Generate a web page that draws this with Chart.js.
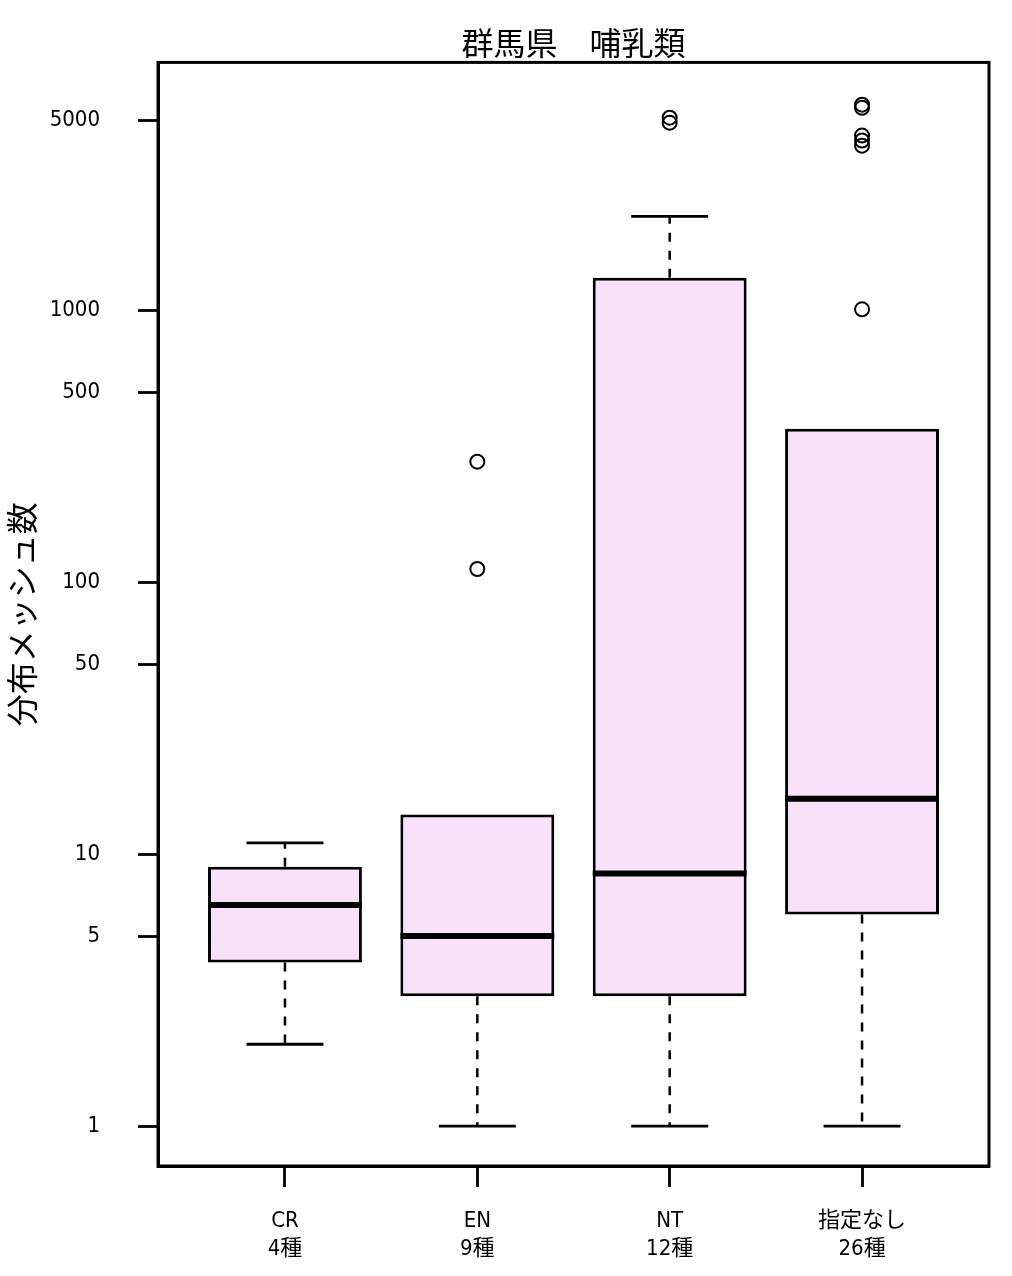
<!DOCTYPE html>
<html>
<head>
<meta charset="utf-8">
<script src="https://cdn.jsdelivr.net/npm/chart.js@4/dist/chart.umd.min.js"></script>
<style>
html,body{margin:0;padding:0;background:#fff;}
#wrap{width:1012px;height:1276px;}
</style>
</head>
<body>
<div id="wrap"><canvas id="c" width="1012" height="1276"></canvas></div>
<script>
// ---- data ----
const categories = ['CR', 'EN', 'NT', '指定なし'];
const speciesCounts = ['4種', '9種', '12種', '26種'];
const whiskerLow = [2, 1, 1, 1];
const q1 = [4, 3, 3, 6];
const median = [6.5, 5, 8.5, 16];
const q3 = [9, 14, 1320, 367];
const whiskerHigh = [11, 14, 2220, 367];
const outliers = [[], [278, 112], [5120, 4910], [5720, 5570, 4400, 4220, 4040, 1010]];
const yTicks = [1, 5, 10, 50, 100, 500, 1000, 5000];
const chartTitle = '群馬県　哺乳類';
const yTitle = '分布メッシュ数';

// ---- derived datasets ----
const positions = categories.map((_, i) => i + 1);
const boxData = positions.map((x, i) => ({x: x, y: [q1[i], q3[i]]}));
const medianData = positions.map((x, i) => ({x: x, y: median[i]}));
const capData = [];
const whiskerData = [];
positions.forEach((x, i) => {
  if (whiskerLow[i] !== q1[i]) {
    capData.push({x: x, y: whiskerLow[i]});
    whiskerData.push({x: x, y: q1[i]}, {x: x, y: whiskerLow[i]}, {x: x, y: null});
  }
  if (whiskerHigh[i] !== q3[i]) {
    capData.push({x: x, y: whiskerHigh[i]});
    whiskerData.push({x: x, y: q3[i]}, {x: x, y: whiskerHigh[i]}, {x: x, y: null});
  }
});
const outlierData = [];
positions.forEach((x, i) => outliers[i].forEach(v => outlierData.push({x: x, y: v})));

const latinFont = '"Liberation Sans Narrow", "DejaVu Sans Condensed", "Noto Sans CJK JP", sans-serif';
const cjkFont = '"Noto Sans CJK JP", sans-serif';
const boxFill = '#F8E1F9';

function unitPx(ctx) {
  const s = ctx.chart.scales.x;
  return s.getPixelForValue(2) - s.getPixelForValue(1);
}

const framePlugin = {
  id: 'frame',
  afterDraw(chart) {
    const a = chart.chartArea, c = chart.ctx;
    c.save();
    c.strokeStyle = '#000';
    c.lineWidth = 3;
    c.strokeRect(a.left, a.top, a.right - a.left, a.bottom - a.top);
    c.restore();
  }
};

new Chart(document.getElementById('c'), {
  type: 'bar',
  data: {
    datasets: [
      {type: 'line', data: whiskerData, borderColor: '#000', borderWidth: 2.5, borderDash: [9, 9], pointRadius: 0, spanGaps: false, order: 4},
      {type: 'bar', data: boxData, backgroundColor: boxFill, borderColor: '#000', borderWidth: 3, borderSkipped: false, barPercentage: 0.8, categoryPercentage: 1.0, order: 3},
      {type: 'scatter', data: capData, pointStyle: 'line', radius: ctx => unitPx(ctx) * 0.2, borderColor: '#000', borderWidth: 2.8, order: 2},
      {type: 'scatter', data: medianData, pointStyle: 'line', radius: ctx => unitPx(ctx) * 0.4, borderColor: '#000', borderWidth: 6, order: 1},
      {type: 'scatter', data: outlierData, pointStyle: 'circle', radius: 7, borderColor: '#000', backgroundColor: 'rgba(0,0,0,0)', borderWidth: 2, order: 0}
    ]
  },
  options: {
    responsive: false,
    animation: false,
    layout: {padding: {left: 0, right: 23, top: 0, bottom: 0}},
    plugins: {
      legend: {display: false},
      tooltip: {enabled: false},
      title: {display: true, text: chartTitle, fullSize: false, color: '#000', font: {family: cjkFont, size: 32, weight: 'normal', lineHeight: 1.2}, padding: {top: 24, bottom: 0}}
    },
    scales: {
      x: {
        type: 'linear', position: 'bottom', bounds: 'data', min: 0.34, max: 4.66, offset: false,
        grid: {display: true, offset: false, drawOnChartArea: false, drawTicks: true, tickLength: 21, tickWidth: 2.8, tickColor: '#000'},
        border: {display: true, color: '#000', width: 3},
        afterBuildTicks: s => { s.ticks = positions.map(v => ({value: v})); },
        afterFit: s => { s.height = 110; },
        ticks: {autoSkip: false, maxRotation: 0, minRotation: 0, padding: 20, color: '#000', font: {family: latinFont, size: 22, lineHeight: 28 / 22}, callback: v => [categories[v - 1], speciesCounts[v - 1]]}
      },
      y: {
        type: 'logarithmic', position: 'left', bounds: 'data', min: 0.713, max: 8180,
        grid: {display: true, drawOnChartArea: false, drawTicks: true, tickLength: 20, tickWidth: 2.8, tickColor: '#000'},
        border: {display: true, color: '#000', width: 3},
        afterBuildTicks: s => { s.ticks = yTicks.map(v => ({value: v})); },
        afterFit: s => { s.width = 158; },
        ticks: {autoSkip: false, padding: 38, color: '#000', font: {family: latinFont, size: 22}, callback: v => String(v)},
        title: {display: true, text: yTitle, color: '#000', font: {family: cjkFont, size: 32, weight: 'normal', lineHeight: 1.2}, padding: {top: 3, bottom: 0}}
      }
    }
  },
  plugins: [framePlugin]
});
</script>
</body>
</html>
